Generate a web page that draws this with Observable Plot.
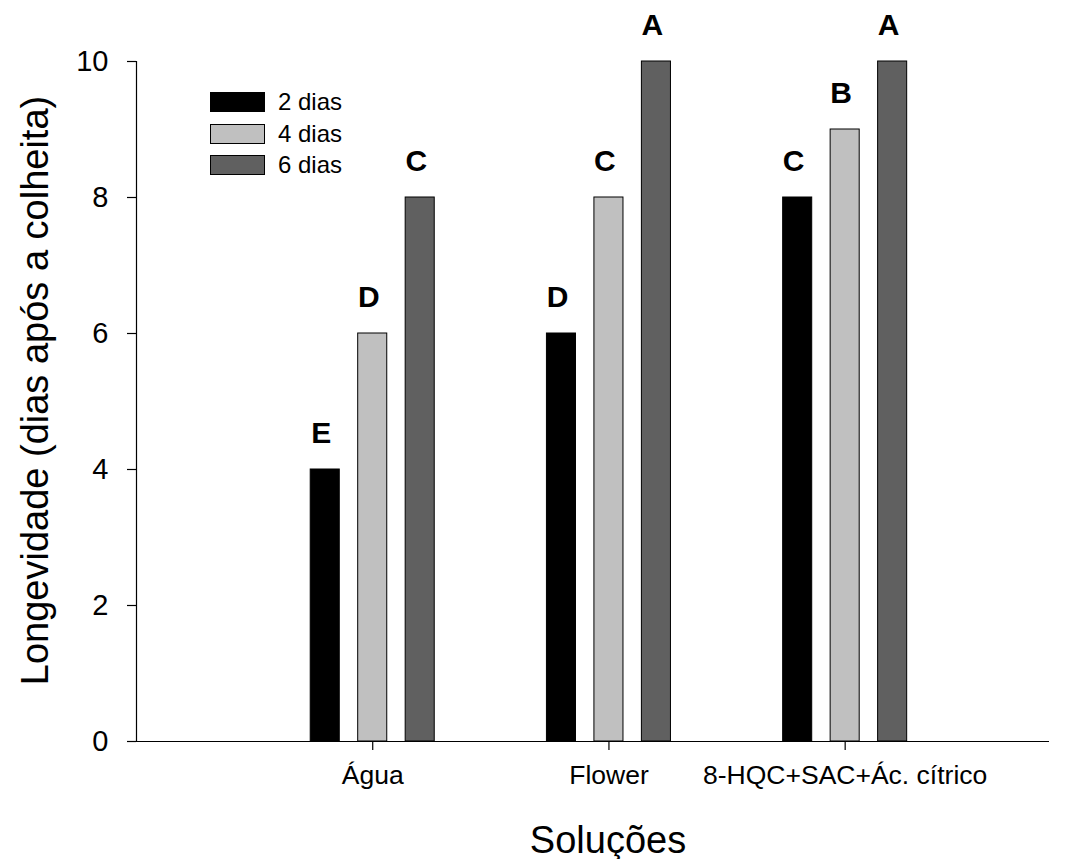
<!DOCTYPE html>
<html><head><meta charset="utf-8">
<script src="https://cdn.jsdelivr.net/npm/d3@7"></script>
<script src="https://cdn.jsdelivr.net/npm/@observablehq/plot@0.6"></script>
<style>
body{margin:0;background:#fff;font-family:"Liberation Sans",Arial,sans-serif;}
#wrap{position:relative;width:1069px;height:859px;}
#legend{position:absolute;left:210px;top:92px;}
.item{display:flex;align-items:center;height:20px;margin-bottom:11.5px;}
.sw{width:53px;height:18px;border:1px solid #000;}
.lab{margin-left:13px;font-size:24px;color:#000;}
</style></head><body><div id="wrap"><div id="legend"></div></div>
<script>
const categories = ["Água", "Flower", "8-HQC+SAC+Ác. cítrico"];
const series = ["2 dias", "4 dias", "6 dias"];
const values2 = [4, 6, 8];
const values4 = [6, 8, 9];
const values6 = [8, 10, 10];
const letters2 = ["E", "D", "C"];
const letters4 = ["D", "C", "B"];
const letters6 = ["C", "A", "A"];
const colors = ["#000000", "#c0c0c0", "#606060"];
const yTicks = [0, 2, 4, 6, 8, 10];
const yTitle = "Longevidade (dias após a colheita)";
const xTitle = "Soluções";

const seriesValues = [values2, values4, values6];
const seriesLetters = [letters2, letters4, letters6];
const rows = [];
categories.forEach((c, i) => series.forEach((s, j) => rows.push({cat: c, idx: i + 1, s, j, v: seriesValues[j][i], letter: seriesLetters[j][i]})));
const off = j => (j - 1) * 0.201;
const half = 0.0615;

const chart = Plot.plot({
  width: 1069, height: 859,
  marginLeft: 136, marginRight: 20, marginTop: 61, marginBottom: 118,
  style: {fontFamily: "Liberation Sans, Arial, sans-serif", background: "white", color: "black", overflow: "visible"},
  x: {type: "linear", domain: [0, 3.865]},
  y: {domain: [0, 10]},
  color: {domain: series, range: colors},
  marks: [
    Plot.rect(rows, {x1: d => d.idx + off(d.j) - half, x2: d => d.idx + off(d.j) + half, y1: () => 0, y2: "v", fill: "s", stroke: "black", strokeWidth: 1}),
    Plot.text(rows, {x: d => d.idx + off(d.j), y: "v", text: "letter", fontSize: 30, fontWeight: "bold", lineAnchor: "bottom", dy: -27, dx: -4}),
    Plot.ruleX([0], {strokeWidth: 1.2}),
    Plot.ruleY([0], {strokeWidth: 1.2}),
    Plot.axisY({ticks: yTicks, tickSize: 9, tickPadding: 19, fontSize: 29, label: null, strokeWidth: 1.2}),
    Plot.axisX({ticks: [1, 2, 3], tickFormat: d => categories[d - 1], tickSize: 9, tickPadding: 15, fontSize: 26.5, label: null, strokeWidth: 1.2}),
    Plot.text([yTitle], {text: d => d, frameAnchor: "left", textAnchor: "middle", rotate: -90, dx: -89, dy: -11, fontSize: 38, lineAnchor: "bottom"}),
    Plot.text([xTitle], {text: d => d, frameAnchor: "bottom", textAnchor: "middle", dx: 15, dy: 111, fontSize: 38, lineAnchor: "bottom"})
  ]
});
document.getElementById("wrap").appendChild(chart);

const legend = document.getElementById("legend");
series.forEach((s, j) => {
  const item = document.createElement("div");
  item.className = "item";
  const sw = document.createElement("div");
  sw.className = "sw";
  sw.style.background = colors[j];
  const lab = document.createElement("span");
  lab.className = "lab";
  lab.textContent = s;
  item.appendChild(sw);
  item.appendChild(lab);
  legend.appendChild(item);
});
</script>
</body></html>
